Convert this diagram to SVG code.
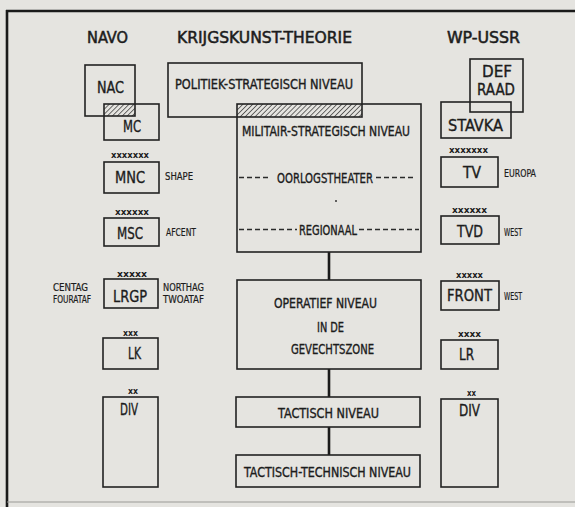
<svg xmlns="http://www.w3.org/2000/svg" width="575" height="507" viewBox="0 0 575 507">
<defs>
<pattern id="hatch" patternUnits="userSpaceOnUse" width="3.5" height="3.5" patternTransform="rotate(45)">
<rect width="3.5" height="3.5" fill="#e5e4e0"/>
<line x1="0" y1="0" x2="0" y2="3.5" stroke="#333" stroke-width="1.4"/>
</pattern>
<style>
.box{fill:none;stroke:#222;stroke-width:1.6}
.conn{stroke:#1a1a1a;stroke-width:2.6;fill:none}
.dash{stroke:#2a2a2a;stroke-width:1.5;stroke-dasharray:5 3}
text{font-family:"DejaVu Sans Condensed","Liberation Sans Narrow","DejaVu Sans",sans-serif;fill:#1c1c1c;stroke:#1c1c1c;stroke-width:0.35}
.h{font-size:16px;stroke-width:0.5}
.b{font-size:16px}
.m{font-size:13.5px}
.s{font-size:10.5px;stroke-width:0.2}
.x{font-size:8px;font-weight:bold;stroke-width:0}
</style>
</defs>
<rect width="575" height="507" fill="#e5e4e0"/>
<g id="frame">
<line x1="6" y1="11" x2="575" y2="11" stroke="#1a1a1a" stroke-width="2.6"/>
<line x1="7" y1="10" x2="7" y2="507" stroke="#1a1a1a" stroke-width="2.6"/>
<line x1="7" y1="502" x2="575" y2="502" stroke="#9a9a96" stroke-width="1"/>
</g>
<g id="headers">
<text class="h" x="87" y="43" textLength="41" lengthAdjust="spacingAndGlyphs">NAVO</text>
<text class="h" x="177" y="43" textLength="175" lengthAdjust="spacingAndGlyphs">KRIJGSKUNST-THEORIE</text>
<text class="h" x="447" y="43" textLength="73" lengthAdjust="spacingAndGlyphs">WP-USSR</text>
</g>
<g id="connectors">
<line class="conn" x1="329" y1="252" x2="329" y2="280"/>
<line class="conn" x1="329" y1="369" x2="329" y2="397"/>
<line class="conn" x1="329" y1="427" x2="329" y2="455"/>
</g>
<g id="nac">
<rect x="104" y="104" width="31" height="12" fill="url(#hatch)"/>
<rect class="box" x="85" y="65" width="50" height="51"/>
<text class="b" x="97" y="93" textLength="27" lengthAdjust="spacingAndGlyphs">NAC</text>
</g>
<g id="mc">
<rect class="box" x="104" y="104" width="55" height="36"/>
<text class="b" x="123" y="132" textLength="18" lengthAdjust="spacingAndGlyphs">MC</text>
</g>
<g id="mnc">
<text class="x" x="111" y="158" textLength="38" lengthAdjust="spacingAndGlyphs">xxxxxxx</text>
<rect class="box" x="104" y="162" width="55" height="31"/>
<text class="b" x="115" y="183" textLength="30" lengthAdjust="spacingAndGlyphs">MNC</text>
<text class="s" x="165" y="180" textLength="28" lengthAdjust="spacingAndGlyphs">SHAPE</text>
</g>
<g id="msc">
<text class="x" x="115" y="215" textLength="34" lengthAdjust="spacingAndGlyphs">xxxxxx</text>
<rect class="box" x="104" y="218" width="55" height="28"/>
<text class="b" x="117" y="239" textLength="26" lengthAdjust="spacingAndGlyphs">MSC</text>
<text class="s" x="166" y="236" textLength="30" lengthAdjust="spacingAndGlyphs">AFCENT</text>
</g>
<g id="lrgp">
<text class="x" x="117" y="277" textLength="30" lengthAdjust="spacingAndGlyphs">xxxxx</text>
<rect class="box" x="104" y="279" width="54" height="29"/>
<text class="b" x="113" y="302" textLength="34" lengthAdjust="spacingAndGlyphs">LRGP</text>
<text class="s" x="53" y="291" textLength="35" lengthAdjust="spacingAndGlyphs">CENTAG</text>
<text class="s" x="53" y="303" textLength="38" lengthAdjust="spacingAndGlyphs">FOURATAF</text>
<text class="s" x="163" y="291" textLength="41" lengthAdjust="spacingAndGlyphs">NORTHAG</text>
<text class="s" x="163" y="303" textLength="41" lengthAdjust="spacingAndGlyphs">TWOATAF</text>
</g>
<g id="lk">
<text class="x" x="123" y="336" textLength="15" lengthAdjust="spacingAndGlyphs">xxx</text>
<rect class="box" x="103" y="338" width="55" height="31"/>
<text class="b" x="128" y="359" textLength="13" lengthAdjust="spacingAndGlyphs">LK</text>
</g>
<g id="div-navo">
<text class="x" x="128" y="394" textLength="10" lengthAdjust="spacingAndGlyphs">xx</text>
<rect class="box" x="103" y="397" width="55" height="90"/>
<text class="b" x="120" y="415" textLength="18" lengthAdjust="spacingAndGlyphs">DIV</text>
</g>
<g id="politiek">
<rect x="237" y="104" width="125" height="13" fill="url(#hatch)"/>
<rect class="box" x="168" y="63" width="194" height="54"/>
<text class="m" x="175" y="89" textLength="178" lengthAdjust="spacingAndGlyphs">POLITIEK-STRATEGISCH  NIVEAU</text>
</g>
<g id="militair">
<rect class="box" x="237" y="104" width="184" height="148"/>
<text class="m" x="242" y="136" textLength="168" lengthAdjust="spacingAndGlyphs">MILITAIR-STRATEGISCH  NIVEAU</text>
<line class="dash" x1="239" y1="177.5" x2="271" y2="177.5"/>
<text class="m" x="277" y="183" textLength="96" lengthAdjust="spacingAndGlyphs">OORLOGSTHEATER</text>
<line class="dash" x1="376" y1="177.5" x2="414" y2="177.5"/>
<circle cx="336" cy="201" r="1" fill="#333"/>
<line class="dash" x1="239" y1="229.5" x2="297" y2="229.5"/>
<text class="m" x="299" y="235" textLength="58" lengthAdjust="spacingAndGlyphs">REGIONAAL</text>
<line class="dash" x1="359" y1="229.5" x2="419" y2="229.5"/>
</g>
<g id="operatief">
<rect class="box" x="237" y="280" width="184" height="89"/>
<text class="m" x="274" y="308" textLength="103" lengthAdjust="spacingAndGlyphs">OPERATIEF  NIVEAU</text>
<text class="m" x="317" y="332" textLength="27" lengthAdjust="spacingAndGlyphs">IN DE</text>
<text class="m" x="291" y="354" textLength="83" lengthAdjust="spacingAndGlyphs">GEVECHTSZONE</text>
</g>
<g id="tactisch">
<rect class="box" x="236" y="397" width="184" height="30"/>
<text class="m" x="278" y="418" textLength="101" lengthAdjust="spacingAndGlyphs">TACTISCH  NIVEAU</text>
</g>
<g id="tactisch-technisch">
<rect class="box" x="236" y="455" width="184" height="32"/>
<text class="m" x="244" y="477" textLength="167" lengthAdjust="spacingAndGlyphs">TACTISCH-TECHNISCH  NIVEAU</text>
</g>
<g id="defraad">
<rect class="box" x="470" y="59" width="53" height="53"/>
<text class="b" x="482" y="77" textLength="30" lengthAdjust="spacingAndGlyphs">DEF</text>
<text class="b" x="477" y="95" textLength="38" lengthAdjust="spacingAndGlyphs">RAAD</text>
</g>
<g id="stavka">
<rect class="box" x="441" y="102" width="70" height="36"/>
<text class="b" x="448" y="131" textLength="55" lengthAdjust="spacingAndGlyphs">STAVKA</text>
</g>
<g id="tv">
<text class="x" x="449" y="153" textLength="39" lengthAdjust="spacingAndGlyphs">xxxxxxx</text>
<rect class="box" x="441" y="157" width="57" height="30"/>
<text class="b" x="463" y="178" textLength="18" lengthAdjust="spacingAndGlyphs">TV</text>
<text class="s" x="504" y="177" textLength="32" lengthAdjust="spacingAndGlyphs">EUROPA</text>
</g>
<g id="tvd">
<text class="x" x="452" y="213" textLength="35" lengthAdjust="spacingAndGlyphs">xxxxxx</text>
<rect class="box" x="441" y="216" width="58" height="28"/>
<text class="b" x="457" y="237" textLength="26" lengthAdjust="spacingAndGlyphs">TVD</text>
<text class="s" x="504" y="236" textLength="18" lengthAdjust="spacingAndGlyphs">WEST</text>
</g>
<g id="front">
<text class="x" x="456" y="278" textLength="27" lengthAdjust="spacingAndGlyphs">xxxxx</text>
<rect class="box" x="441" y="281" width="58" height="29"/>
<text class="b" x="447" y="301" textLength="45" lengthAdjust="spacingAndGlyphs">FRONT</text>
<text class="s" x="504" y="300" textLength="18" lengthAdjust="spacingAndGlyphs">WEST</text>
</g>
<g id="lr">
<text class="x" x="458" y="337" textLength="23" lengthAdjust="spacingAndGlyphs">xxxx</text>
<rect class="box" x="441" y="340" width="57" height="29"/>
<text class="b" x="459" y="360" textLength="15" lengthAdjust="spacingAndGlyphs">LR</text>
</g>
<g id="div-wp">
<text class="x" x="467" y="396" textLength="9" lengthAdjust="spacingAndGlyphs">xx</text>
<rect class="box" x="441" y="399" width="57" height="88"/>
<text class="b" x="459" y="416" textLength="21" lengthAdjust="spacingAndGlyphs">DIV</text>
</g>
</svg>
